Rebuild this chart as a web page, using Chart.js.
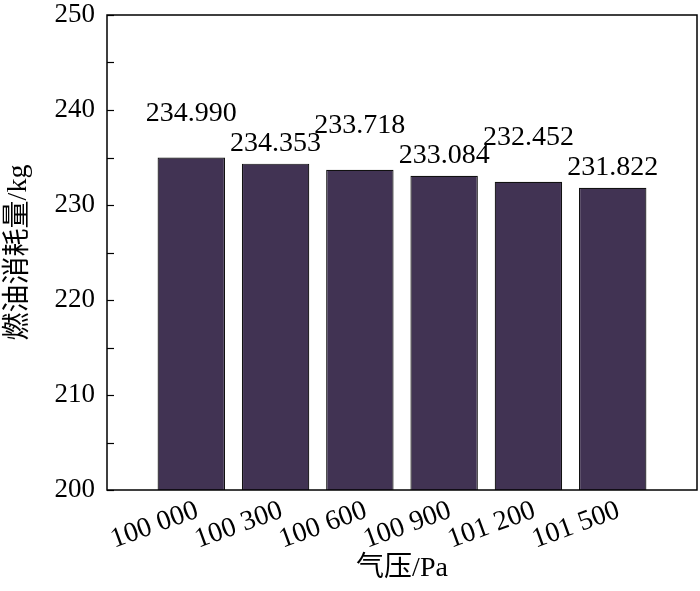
<!DOCTYPE html>
<html>
<head>
<meta charset="utf-8">
<script src="https://cdn.jsdelivr.net/npm/chart.js@4.4.1/dist/chart.umd.min.js"></script>
<style>
  html, body { margin: 0; padding: 0; background: #fff; }
  #wrap { width: 700px; height: 591px; }
</style>
</head>
<body>
<div id="wrap"><canvas id="fuelChart"></canvas></div>
<script>
// pressure categories (Pa) and fuel consumption (kg)
const pressures = ['100 000', '100 300', '100 600', '100 900', '101 200', '101 500'];
const fuelUsed = [234.990, 234.353, 233.718, 233.084, 232.452, 231.822];
const valueLabels = ['234.990', '234.353', '233.718', '233.084', '232.452', '231.822'];
const yTicks = [200, 210, 220, 230, 240, 250];

const serif = '"Liberation Serif", "Noto Sans CJK SC", serif';

// inner ticks on the y axis + full frame round the plot
const framePlugin = {
    id: 'frame',
    afterDraw: function(chart) {
        const ctx = chart.ctx;
        const a = chart.chartArea;
        const y = chart.scales.y;
        ctx.save();
        ctx.strokeStyle = '#000';
        ctx.lineWidth = 1.5;
        ctx.strokeRect(a.left, a.top, a.right - a.left, a.bottom - a.top);
        ctx.lineWidth = 1.2;
        for (let v = y.min; v <= y.max; v += 5) {
            const py = Math.round(y.getPixelForValue(v)) + 0.5;
            ctx.beginPath();
            ctx.moveTo(a.left, py);
            ctx.lineTo(a.left + 7, py);
            ctx.stroke();
        }
        ctx.restore();
    }
};

// value labels above bars, staggered high / low
const valuePlugin = {
    id: 'values',
    afterDatasetsDraw: function(chart) {
        const ctx = chart.ctx;
        const meta = chart.getDatasetMeta(0);
        ctx.save();
        ctx.fillStyle = '#000';
        ctx.font = '28px ' + serif;
        ctx.textAlign = 'center';
        ctx.textBaseline = 'alphabetic';
        meta.data.forEach((bar, i) => {
            const lift = i % 2 === 0 ? 37 : 13;
            ctx.fillText(valueLabels[i], bar.x, bar.y - lift);
        });
        ctx.restore();
    }
};

new Chart(document.getElementById('fuelChart'), {
    type: 'bar',
    data: {
        datasets: [{
            data: fuelUsed.map((v, i) => ({ x: i + 1, y: v })),
            backgroundColor: '#413353',
            borderColor: '#111',
            borderWidth: 1.2,
            barPercentage: 0.8,
            categoryPercentage: 1.0
        }]
    },
    options: {
        responsive: true,
        maintainAspectRatio: false,
        animation: false,
        layout: {
            padding: { top: 15, right: 3, left: 0, bottom: 0 }
        },
        plugins: {
            legend: { display: false },
            tooltip: { enabled: false }
        },
        scales: {
            x: {
                type: 'linear',
                min: 0,
                max: 7,
                offset: false,
                grid: { display: false, offset: false, drawTicks: false },
                border: { display: false },
                afterFit: function(scale) {
                    scale.height = 101;
                    scale.paddingLeft = 0;
                    scale.paddingRight = 0;
                },
                afterBuildTicks: function(scale) {
                    scale.ticks = pressures.map((p, i) => ({ value: i + 1 }));
                },
                ticks: {
                    autoSkip: false,
                    minRotation: 20,
                    maxRotation: 20,
                    padding: 4,
                    labelOffset: 6,
                    color: '#000',
                    font: { family: serif, size: 28 },
                    callback: function(v) { return pressures[v - 1] || ''; }
                },
                title: {
                    display: true,
                    text: '气压/Pa',
                    color: '#000',
                    font: { family: serif, size: 28 },
                    padding: { top: 4, bottom: 6 }
                }
            },
            y: {
                min: 200,
                max: 250,
                grid: { display: false, drawTicks: false },
                border: { display: false },
                afterFit: function(scale) {
                    scale.width = 107;
                    scale.paddingTop = 0;
                    scale.paddingBottom = 0;
                },
                afterBuildTicks: function(scale) {
                    scale.ticks = yTicks.map(v => ({ value: v }));
                },
                ticks: {
                    padding: 12,
                    color: '#000',
                    font: { family: serif, size: 27 }
                },
                title: {
                    display: true,
                    text: '燃油消耗量/kg',
                    color: '#000',
                    font: { family: serif, size: 28 },
                    padding: { top: 2, bottom: 4 }
                }
            }
        }
    },
    plugins: [framePlugin, valuePlugin]
});
</script>
</body>
</html>
